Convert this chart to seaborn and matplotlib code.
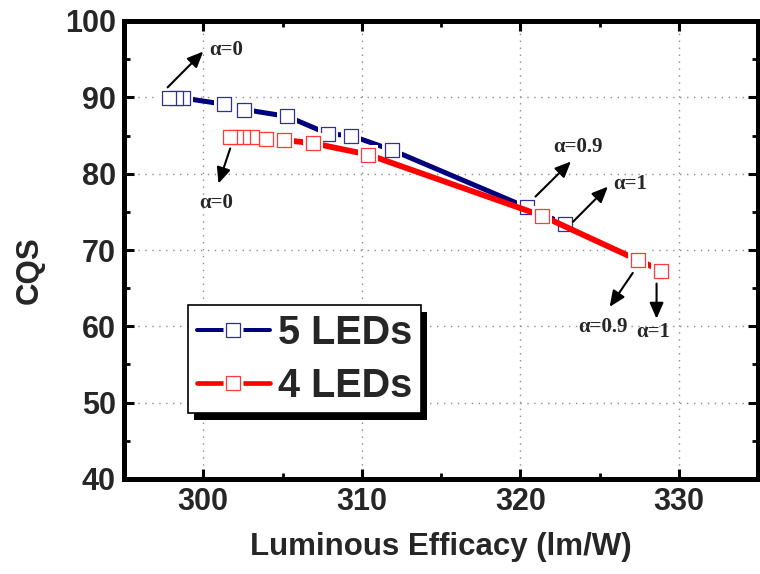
import matplotlib
matplotlib.use("Agg")
import matplotlib.pyplot as plt
import seaborn as sns
import pandas as pd
from matplotlib.lines import Line2D
from matplotlib.legend_handler import HandlerTuple
from matplotlib.patches import Rectangle

# ---- data ----
x5 = [297.85, 298.29, 298.75, 301.3, 302.6, 305.3, 307.9, 309.3, 311.9, 320.4, 322.8]
y5 = [89.9, 89.9, 89.9, 89.1, 88.4, 87.5, 85.2, 85.0, 83.1, 75.6, 73.4]
x4 = [301.69, 302.06, 302.53, 303.07, 303.95, 305.1, 306.9, 310.4, 321.35, 327.4, 328.9]
y4 = [84.8, 84.8, 84.8, 84.8, 84.6, 84.4, 84.0, 82.5, 74.5, 68.7, 67.3]
series_labels = ["5 LEDs", "4 LEDs"]
x_ticks = [300, 310, 320, 330]
y_ticks = [40, 50, 60, 70, 80, 90, 100]

# annotations: (text, text_x, text_y, ha, tail_x, tail_y, head_x, head_y)
notes = [
    ("α=0", 300.4, 96.2, "left", 297.75, 91.3, 300.0, 96.0),
    ("α=0", 300.8, 76.2, "center", 301.7, 83.3, 300.96, 78.7),
    ("α=0.9", 323.65, 83.5, "center", 320.96, 77.0, 323.2, 81.6),
    ("α=1", 326.95, 78.6, "center", 323.33, 73.7, 325.53, 78.3),
    ("α=0.9", 325.2, 59.9, "center", 327.1, 67.0, 325.64, 62.55),
    ("α=1", 328.4, 59.3, "center", 328.6, 65.6, 328.6, 61.0),
]

sns.set_style("ticks")
plt.rcParams["font.family"] = ["Liberation Sans", "DejaVu Sans"]
plt.rcParams["font.weight"] = "bold"

BLUE = "#00007f"
BLUE_EDGE = "#2f2fa0"
RED = "#ff0000"
RED_EDGE = "#ff3a3a"

fig = plt.figure(figsize=(7.6, 5.74), dpi=100)
ax = fig.add_axes([124 / 760, 1 - 479 / 574, (758 - 124) / 760, (479 - 21) / 574])

df5 = pd.DataFrame({"x": x5, "y": y5}).iloc[::-1]
df4 = pd.DataFrame({"x": x4, "y": y4}).iloc[::-1]

ms = 9.4  # marker side in points
gap_s = (ms + 4.5) ** 2
mk_s = ms ** 2

for df, col, edge, lw, z in [(df5, BLUE, BLUE_EDGE, 3.6, 2), (df4, RED, RED_EDGE, 4.2, 6)]:
    sns.lineplot(data=df, x="x", y="y", sort=False, color=col, lw=lw, ax=ax,
                 zorder=z, solid_capstyle="round")
    sns.scatterplot(data=df, x="x", y="y", marker="s", s=gap_s, color="white",
                    linewidth=0, ax=ax, zorder=z + 1)
    sns.scatterplot(data=df, x="x", y="y", marker="s", s=mk_s, facecolor="white",
                    edgecolor=edge, linewidth=0.9, ax=ax, zorder=z + 2)

for txt, tx, ty, ha, x0, y0, x1, y1 in notes:
    ax.annotate("", xy=(x1, y1), xytext=(x0, y0),
                arrowprops=dict(arrowstyle="-|>,head_length=0.8,head_width=0.35",
                                mutation_scale=12, color="black", lw=1.5,
                                shrinkA=0, shrinkB=0), zorder=10)
    ax.text(tx, ty, txt, ha=ha, va="center", fontsize=15, fontweight="bold",
            family=["Liberation Serif", "DejaVu Serif"], zorder=10)

ax.set_xlim(295, 335)
ax.set_ylim(40, 100)
ax.set_xticks(x_ticks)
ax.set_yticks(y_ticks)
ax.set_xticks([295 + 5 * i for i in range(9)], minor=True)
ax.set_yticks([45, 55, 65, 75, 85, 95], minor=True)
ax.grid(True, which="major", color="#8c8c8c", linestyle=(0, (1, 4)), lw=1.0)
ax.set_axisbelow(True)

for sp in ax.spines.values():
    sp.set_visible(True)
    sp.set_linewidth(3.6)
    sp.set_color("black")
ax.tick_params(which="both", direction="in", top=True, right=True, color="black")
ax.tick_params(which="major", length=7.5, width=2.2, labelsize=22, pad=6)
ax.tick_params(which="minor", length=4.5, width=2.0)
for lab in ax.get_xticklabels() + ax.get_yticklabels():
    lab.set_fontweight("bold")

ax.set_xlabel("Luminous Efficacy (lm/W)", fontsize=22.5, fontweight="bold")
ax.set_ylabel("CQS", fontsize=22.5, fontweight="bold")
ax.xaxis.set_label_coords(0.5, -0.115)
ax.yaxis.set_label_coords(-0.125, 0.455)

def handle(col, edge, lw):
    return (Line2D([], [], color=col, lw=lw * 0.8, solid_capstyle="round"),
            Line2D([], [], ls="none", marker="s", ms=ms + 4.5, mfc="white", mec="none"),
            Line2D([], [], ls="none", marker="s", ms=ms, mfc="white", mec=edge, mew=0.9))

leg = ax.legend([handle(BLUE, BLUE_EDGE, 3.6), handle(RED, RED_EDGE, 4.2)], series_labels,
                handler_map={tuple: HandlerTuple(ndivide=1)},
                loc="upper left", bbox_to_anchor=(0.101, 0.380),
                prop={"family": "Liberation Sans", "weight": "bold", "size": 28.5},
                frameon=True, fancybox=False, framealpha=1, edgecolor="black",
                handlelength=1.85, handletextpad=0.2, borderpad=0.22,
                labelspacing=0.38, borderaxespad=0)
leg.get_frame().set_linewidth(1.2)
leg.set_zorder(20)

fig.canvas.draw()
bb = leg.get_window_extent()
inv = fig.transFigure.inverted()
(x0f, y0f) = inv.transform((bb.x0 + 6, bb.y0 - 7))
(x1f, y1f) = inv.transform((bb.x1 + 6, bb.y1 - 7))
shadow = Rectangle((x0f, y0f), x1f - x0f, y1f - y0f, transform=fig.transFigure,
                   facecolor="black", edgecolor="none", zorder=19)
ax.add_artist(shadow)
shadow.set_clip_on(False)

fig.savefig("out.png", dpi=100)
